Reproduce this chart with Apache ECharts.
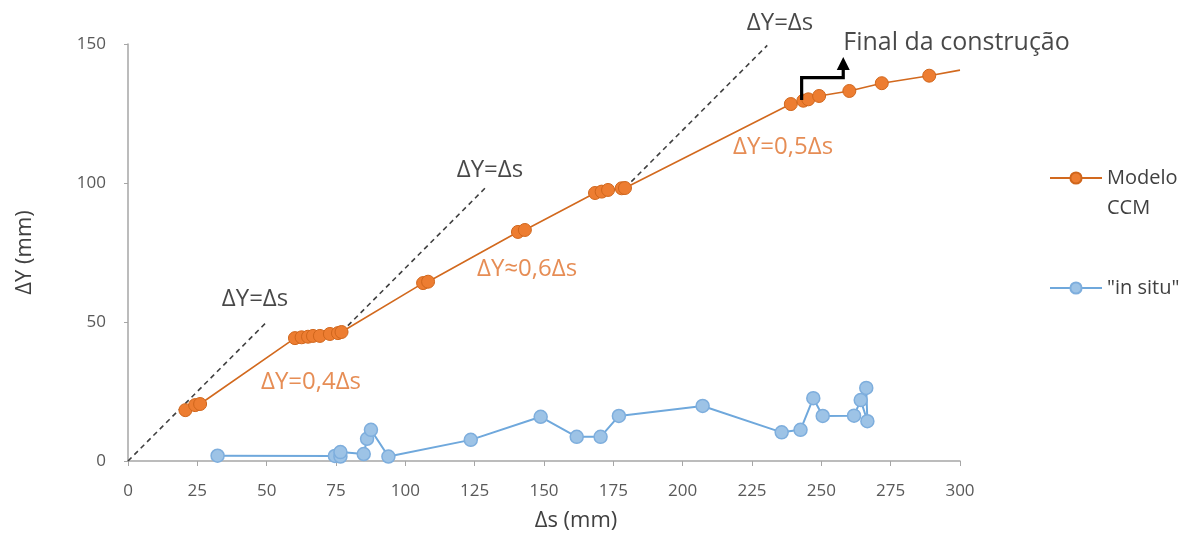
<!DOCTYPE html>
<html>
<head>
<meta charset="utf-8">
<script src="https://cdn.jsdelivr.net/npm/echarts@6/dist/echarts.min.js"></script>
<style>
  html, body { margin: 0; padding: 0; background: #fff; }
  #chart { width: 1185px; height: 538px; }
</style>
</head>
<body>
<div id="chart"></div>
<script>
// Numerical model (CCM): horizontal displacement Δs vs vertical displacement ΔY, mm
const modelS = [20.7, 24.2, 26.0, 60.2, 62.6, 64.9, 66.7, 69.2, 72.8, 75.7, 77.0,
                106.4, 108.2, 140.6, 143.1, 168.4, 170.8, 173.1, 178.0, 179.2,
                239.0, 243.5, 245.3, 249.2, 260.1, 271.8, 288.9, 300.0];
const modelY = [18.3, 20.1, 20.5, 44.2, 44.5, 44.7, 45.0, 45.0, 45.7, 46.0, 46.4,
                64.0, 64.5, 82.4, 83.1, 96.4, 96.9, 97.5, 98.1, 98.2,
                128.4, 129.6, 130.1, 131.3, 133.1, 135.9, 138.6, 140.6];

// Field measurements ("in situ")
const situS = [32.3, 74.6, 76.6, 76.6, 85.0, 86.2, 87.6, 93.9, 123.6, 148.8,
               161.8, 170.4, 177.0, 207.2, 235.7, 242.5, 247.1, 250.5, 261.8,
               264.2, 266.6, 266.2];
const situY = [1.9, 1.8, 1.6, 3.2, 2.5, 8.0, 11.2, 1.6, 7.6, 15.9,
               8.7, 8.7, 16.2, 19.8, 10.3, 11.2, 22.6, 16.2, 16.3,
               21.9, 14.3, 26.3];

// ΔY = Δs reference segments
const refA = [[0, 0], [50, 50]];
const refB = [[77.0, 46.4], [128.7, 98.1]];
const refC = [[179.2, 98.2], [230.5, 149.5]];

// End-of-construction marker (bent arrow)
const arrowPath = [[242.9, 129.9], [242.9, 137.9], [257.9, 137.9], [257.9, 143.0]];

// Annotation texts [Δs, ΔY, text]
const blackNotes = [[45.8, 58.3, 'ΔY=Δs'], [130.5, 104.7, 'ΔY=Δs'], [235.1, 157.6, 'ΔY=Δs']];
const orangeNotes = [[66.0, 28.4, 'ΔY=0,4Δs'], [143.9, 69.1, 'ΔY≈0,6Δs'], [236.2, 112.9, 'ΔY=0,5Δs']];
const titleNote = [[257.9, 150.3, 'Final da construção']];

const xTicks = { min: 0, max: 300, interval: 25 };
const yTicks = { min: 0, max: 150, interval: 50 };

const FONT = '"Open Sans", "Noto Sans", sans-serif';
const ORANGE = '#ED7D31';
const ORANGE_LINE = '#D2691E';
const ORANGE_TEXT = '#E0702A';
const BLUE_LINE = '#6FA8DC';
const BLUE_FILL = '#9DC3E6';

const zip = (a, b) => a.map((v, i) => [v, b[i]]);

const modelData = zip(modelS, modelY).map((p, i, arr) =>
  i === arr.length - 1 ? { value: p, symbol: 'none' } : p);
const situData = zip(situS, situY);

const arrowData = arrowPath.map((p, i, arr) =>
  i === arr.length - 1 ? { value: p, symbol: 'triangle', symbolSize: [13, 13] } : p);

function refSeries(data) {
  return {
    type: 'line', data, symbol: 'none', silent: true, z: 1,
    lineStyle: { color: '#404040', width: 1.6, type: [5, 4] }
  };
}

function noteSeries(data, color, size, align) {
  return {
    type: 'scatter', data, symbolSize: 0, silent: true, clip: false, z: 5,
    label: {
      show: true, position: 'inside', formatter: p => p.value[2],
      color, fontSize: size, fontFamily: FONT, align: align || 'center'
    }
  };
}

const chart = echarts.init(document.getElementById('chart'));
chart.setOption({
  animation: false,
  textStyle: { fontFamily: FONT },
  grid: { left: 128, right: 225, top: 44, bottom: 77 },
  xAxis: {
    type: 'value', min: xTicks.min, max: xTicks.max, interval: xTicks.interval,
    name: 'Δs (mm)', nameLocation: 'middle', nameGap: 49,
    nameTextStyle: { color: '#404040', fontSize: 22, fontFamily: FONT, padding: [0, 0, 0, 64] },
    axisLine: { lineStyle: { color: '#A6A6A6', width: 1.5 } },
    axisTick: { show: true, length: 5, lineStyle: { color: '#A6A6A6' } },
    axisLabel: { color: '#595959', fontSize: 17, margin: 22, fontFamily: FONT },
    splitLine: { show: false }
  },
  yAxis: {
    type: 'value', min: yTicks.min, max: yTicks.max, interval: yTicks.interval,
    name: 'ΔY (mm)', nameLocation: 'middle', nameGap: 92,
    nameTextStyle: { color: '#404040', fontSize: 22, fontFamily: FONT },
    axisLine: { show: true, lineStyle: { color: '#A6A6A6', width: 1.5 } },
    axisTick: { show: true, length: 4, lineStyle: { color: '#A6A6A6' } },
    axisLabel: { color: '#595959', fontSize: 17, margin: 22, fontFamily: FONT },
    splitLine: { show: false }
  },
  legend: [
    {
      data: ['Modelo CCM'], orient: 'vertical', left: 1044, top: 133,
      itemWidth: 52, itemHeight: 14,
      formatter: () => '{s| }\n{t|Modelo}\n{t|CCM}',
      textStyle: {
        color: '#404040', fontSize: 20, fontFamily: FONT,
        rich: {
          s: { fontSize: 20, lineHeight: 30, fontFamily: FONT },
          t: { fontSize: 20, lineHeight: 30, color: '#404040', fontFamily: FONT }
        }
      }
    },
    {
      data: ['"in situ"'], orient: 'vertical', left: 1044, top: 273,
      itemWidth: 52, itemHeight: 14,
      textStyle: { color: '#404040', fontSize: 20, fontFamily: FONT }
    }
  ],
  series: [
    refSeries(refA), refSeries(refB), refSeries(refC),
    {
      name: 'Modelo CCM', type: 'line', data: modelData, z: 3,
      symbol: 'circle', symbolSize: 13,
      lineStyle: { color: ORANGE_LINE, width: 1.6 },
      itemStyle: { color: ORANGE, borderColor: '#D0661C', borderWidth: 1 }
    },
    {
      name: '"in situ"', type: 'line', data: situData, z: 3,
      symbol: 'circle', symbolSize: 13,
      lineStyle: { color: BLUE_LINE, width: 2 },
      itemStyle: { color: BLUE_FILL, borderColor: '#7EAEDD', borderWidth: 1.5 }
    },
    {
      type: 'line', data: arrowData, symbol: 'none', silent: true, z: 4,
      lineStyle: { color: '#000', width: 3.2, join: 'miter' },
      itemStyle: { color: '#000' }
    },
    noteSeries(blackNotes, '#1a1a1a', 24),
    noteSeries(orangeNotes, ORANGE_TEXT, 24),
    noteSeries(titleNote, '#1a1a1a', 25, 'left')
  ]
});
</script>
</body>
</html>
